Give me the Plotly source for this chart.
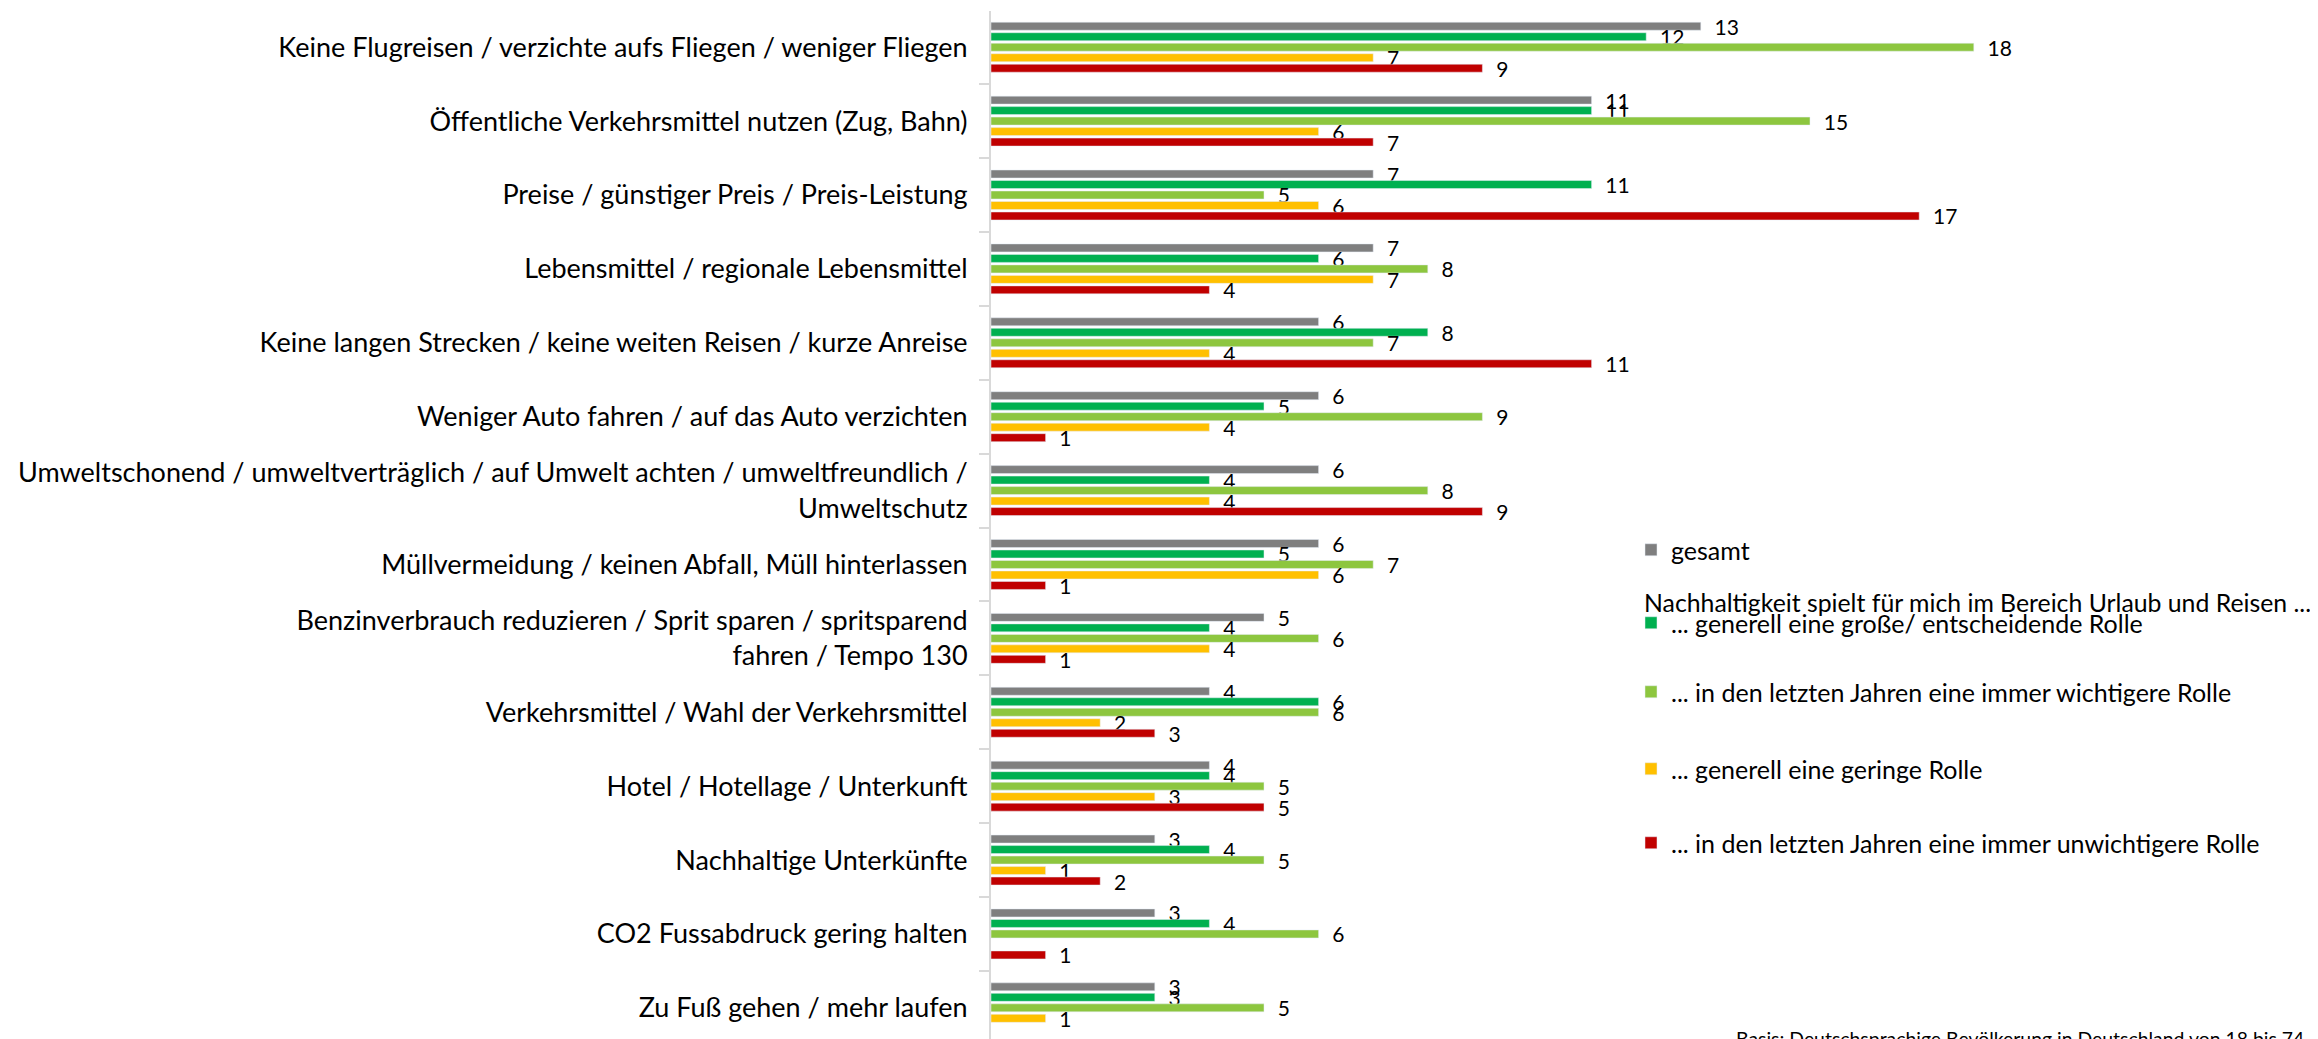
import plotly.graph_objects as go

categories = [
    "Keine Flugreisen / verzichte aufs Fliegen / weniger Fliegen",
    "Öffentliche Verkehrsmittel nutzen (Zug, Bahn)",
    "Preise / günstiger Preis / Preis-Leistung",
    "Lebensmittel / regionale Lebensmittel",
    "Keine langen Strecken / keine weiten Reisen / kurze Anreise",
    "Weniger Auto fahren / auf das Auto verzichten",
    "Umweltschonend / umweltverträglich / auf Umwelt achten / umweltfreundlich /<br>Umweltschutz",
    "Müllvermeidung / keinen Abfall, Müll hinterlassen",
    "Benzinverbrauch reduzieren / Sprit sparen / spritsparend<br>fahren / Tempo 130",
    "Verkehrsmittel / Wahl der Verkehrsmittel",
    "Hotel / Hotellage / Unterkunft",
    "Nachhaltige Unterkünfte",
    "CO2 Fussabdruck gering halten",
    "Zu Fuß gehen / mehr laufen",
]

gesamt = [13, 11, 7, 7, 6, 6, 6, 6, 5, 4, 4, 3, 3, 3]
gross = [12, 11, 11, 6, 8, 5, 4, 5, 4, 6, 4, 4, 4, 3]
wichtiger = [18, 15, 5, 8, 7, 9, 8, 7, 6, 6, 5, 5, 6, 5]
gering = [7, 6, 6, 7, 4, 4, 4, 6, 4, 2, 3, 1, None, 1]
unwichtiger = [9, 7, 17, 4, 11, 1, 9, 1, 1, 3, 5, 2, 1, None]

series = [
    ("gesamt", gesamt, "#7F7F7F", "legend", 551),
    ("... generell eine große/ entscheidende Rolle", gross, "#00B050", "legend2", 624),
    ("... in den letzten Jahren eine immer wichtigere Rolle", wichtiger, "#8DC63F", "legend3", 693),
    ("... generell eine geringe Rolle", gering, "#FFC000", "legend4", 770),
    ("... in den letzten Jahren eine immer unwichtigere Rolle", unwichtiger, "#C00000", "legend5", 844),
]

FONT = "Lato, 'Open Sans', sans-serif"
W, H = 2318, 1039
L, T = 983, 3

fig = go.Figure()
for name, vals, color, lg, _ in series:
    fig.add_trace(go.Bar(
        y=categories, x=vals, name=name, orientation="h",
        marker_color=color, legend=lg, showlegend=True,
        texttemplate="\u00a0\u00a0%{x}", textposition="outside",
        constraintext="none", cliponaxis=False,
        textfont=dict(size=21, color="black", family=FONT),
    ))

legends = {}
for name, vals, color, lg, ypix in series:
    legends[lg] = dict(xref="container", yref="container", xanchor="left", yanchor="middle",
                       x=1623 / W, y=1 - (ypix - 9) / H,
                       font=dict(size=25, color="black", family=FONT),
                       bgcolor="rgba(0,0,0,0)")

fig.update_layout(
    width=W, height=H,
    margin=dict(l=L, r=0, t=T, b=0, autoexpand=False),
    plot_bgcolor="white", paper_bgcolor="white",
    showlegend=True,
    barmode="group", bargap=0.29, bargroupgap=0.24,
    font=dict(family=FONT, color="black"),
    xaxis=dict(visible=False, range=[0, (W - L) / 54.6]),
    yaxis=dict(type="category", categoryorder="array", categoryarray=categories,
               range=[13.53, -0.49], automargin=False,
               showline=True, linecolor="#D9D9D9", linewidth=2,
               ticks="outside", tickson="boundaries", ticklen=10, tickcolor="#D9D9D9",
               tickwidth=2, showgrid=False, ticklabelstandoff=16,
               tickfont=dict(size=27, color="black", family=FONT)),
    **legends,
)

# legend heading above the green entry
fig.add_annotation(
    text="Nachhaltigkeit spielt für mich im Bereich Urlaub und Reisen ...",
    xref="paper", yref="paper", x=(1634 - L) / (W - L), y=1 - (594 - T) / (H - T),
    xanchor="left", yanchor="middle", showarrow=False,
    font=dict(size=24.8, color="black", family=FONT),
)

fig.add_annotation(
    text="Basis: Deutschsprachige Bevölkerung in Deutschland von 18 bis 74 Jahren",
    xref="paper", yref="paper", x=(1726 - L) / (W - L), y=(H - 1017) / (H - T),
    xanchor="left", yanchor="top", showarrow=False,
    font=dict(size=19.4, color="black", family=FONT),
)

fig.write_html("out.html")
